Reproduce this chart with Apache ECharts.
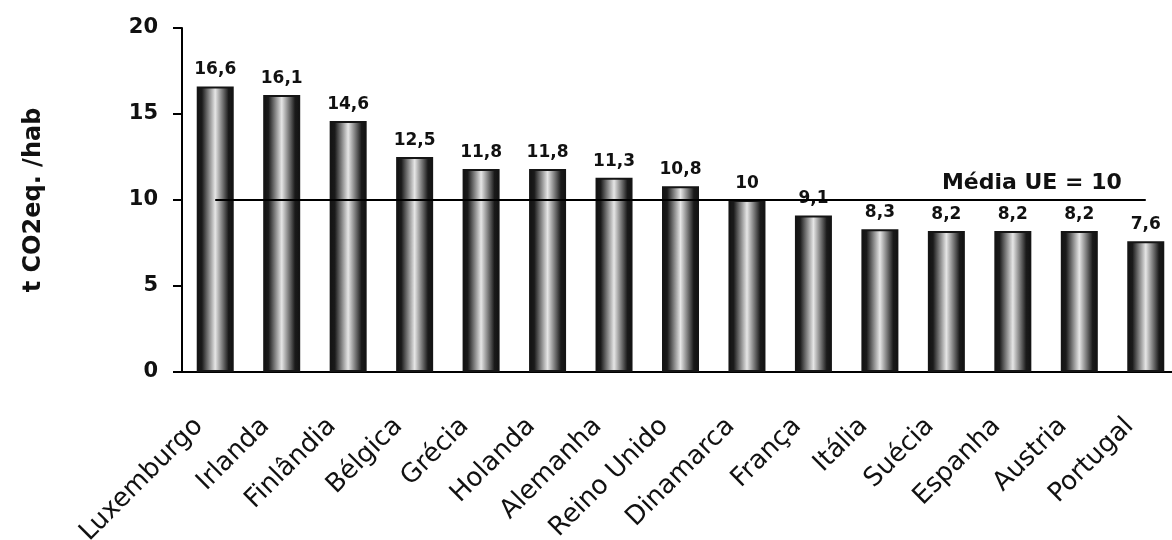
<!DOCTYPE html>
<html>
<head>
<meta charset="utf-8">
<title>Emissões per capita</title>
<script src="https://cdn.jsdelivr.net/npm/echarts@6/dist/echarts.min.js"></script>
<style>
  html, body { margin: 0; padding: 0; background: #ffffff; }
  #chart { width: 1172px; height: 540px; }
</style>
</head>
<body>
<div id="chart"></div>
<script>
// Countries, ordered by emissions per inhabitant
const countries = ['Luxemburgo', 'Irlanda', 'Finlândia', 'Bélgica', 'Grécia', 'Holanda', 'Alemanha',
  'Reino Unido', 'Dinamarca', 'França', 'Itália', 'Suécia', 'Espanha', 'Austria', 'Portugal'];

// t CO2eq. per inhabitant
const emissions = [16.6, 16.1, 14.6, 12.5, 11.8, 11.8, 11.3, 10.8, 10, 9.1, 8.3, 8.2, 8.2, 8.2, 7.6];

// EU average
const euAverage = 10;

// Value axis ticks
const yTicks = [0, 5, 10, 15, 20];

const fmt = v => String(v).replace('.', ',');

// dark edges with a pale glow down the middle of each bar
const barFill = {
  type: 'linear', x: 0, y: 0, x2: 1, y2: 0,
  colorStops: [
    { offset: 0, color: '#121212' },
    { offset: 0.14, color: '#1a1a1a' },
    { offset: 0.27, color: '#646464' },
    { offset: 0.5, color: '#e6e6e6' },
    { offset: 0.73, color: '#646464' },
    { offset: 0.86, color: '#1a1a1a' },
    { offset: 1, color: '#121212' }
  ]
};

const chart = echarts.init(document.getElementById('chart'), null, { renderer: 'canvas' });

chart.setOption({
  backgroundColor: '#ffffff',
  animation: false,
  grid: { left: 182, top: 28, width: 997, height: 344, outerBoundsMode: 'none', containLabel: false },
  xAxis: {
    type: 'category',
    data: countries,
    axisLine: { show: true, lineStyle: { color: '#000', width: 2 } },
    axisTick: { show: false },
    axisLabel: {
      rotate: 45,
      margin: 34,
      interval: 0,
      padding: [0, 23, 0, 0],
      color: '#111',
      fontFamily: 'DejaVu Sans',
      fontSize: 26
    }
  },
  yAxis: {
    type: 'value',
    min: yTicks[0],
    max: yTicks[yTicks.length - 1],
    interval: yTicks[1] - yTicks[0],
    name: 't CO2eq. /hab',
    nameLocation: 'middle',
    nameGap: 136,
    nameRotate: 90,
    nameTextStyle: { fontFamily: 'DejaVu Sans', fontWeight: 'bold', fontSize: 24, color: '#111' },
    axisLine: { show: true, lineStyle: { color: '#000', width: 2 } },
    axisTick: { show: true, length: 9, lineStyle: { color: '#000', width: 2 } },
    splitLine: { show: false },
    axisLabel: {
      margin: 24,
      color: '#111',
      fontFamily: 'DejaVu Sans',
      fontWeight: 'bold',
      fontSize: 21
    }
  },
  series: [{
    type: 'bar',
    data: emissions,
    barWidth: 37,
    itemStyle: { color: barFill, borderColor: '#151515', borderWidth: 2 },
    label: {
      show: true,
      position: 'top',
      distance: 8,
      color: '#111',
      fontFamily: 'DejaVu Sans',
      fontWeight: 'bold',
      fontSize: 17,
      formatter: p => fmt(p.value)
    },
    markLine: {
      silent: true,
      symbol: ['none', 'none'],
      lineStyle: { color: '#000', width: 2, type: 'solid' },
      label: {
        show: true,
        position: 'insideEndTop',
        distance: [24, 6],
        color: '#111',
        fontFamily: 'DejaVu Sans',
        fontWeight: 'bold',
        fontSize: 22,
        formatter: 'Média UE = ' + euAverage
      },
      data: [[
        { coord: [0, euAverage] },
        { coord: [countries.length - 1, euAverage] }
      ]]
    }
  }]
});
</script>
</body>
</html>
